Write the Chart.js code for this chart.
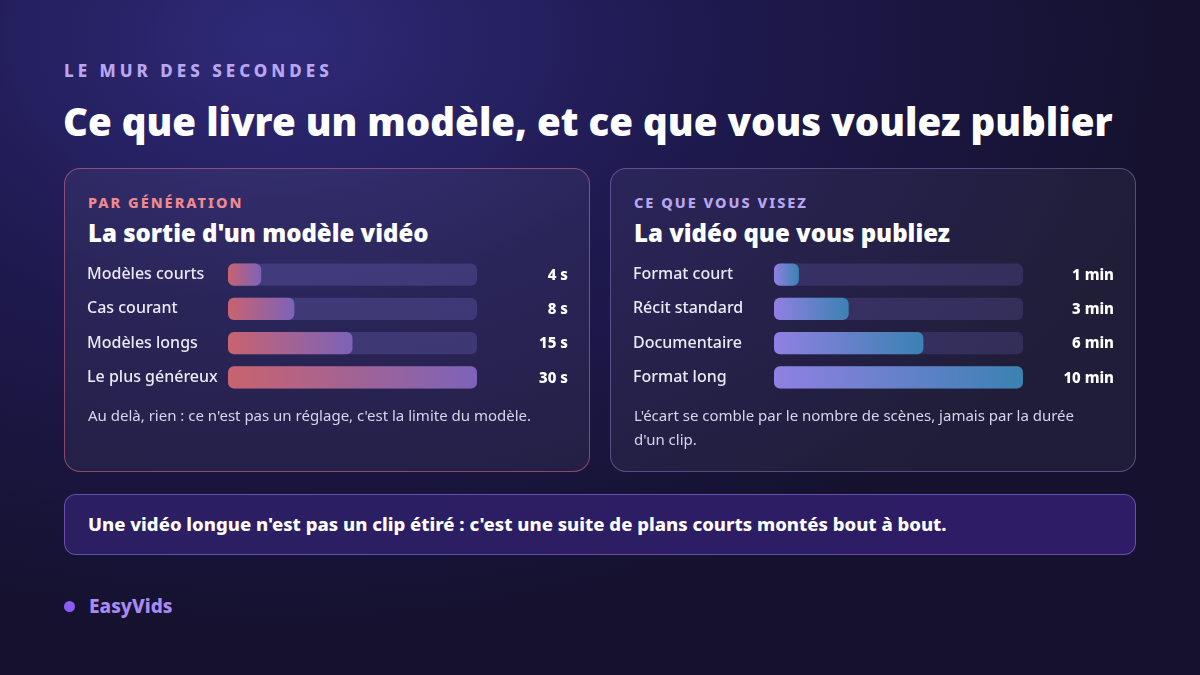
<!DOCTYPE html>
<html><head><meta charset="utf-8">
<script src="https://cdn.jsdelivr.net/npm/chart.js@4/dist/chart.umd.min.js"></script>
<style>
*{margin:0;padding:0;box-sizing:border-box}
body{width:1200px;height:675px;overflow:hidden;font-family:"Noto Sans",sans-serif;color:#fff;
background:radial-gradient(ellipse 900px 600px at 280px 40px,#2f2a78 0%,#1f1a50 45%,#15112e 100%);position:relative}
.kick{position:absolute;left:64px;top:59px;font-size:17px;font-weight:800;letter-spacing:4px;color:#b9a6f0}
h1{position:absolute;left:63px;top:95px;font-size:38.5px;font-weight:900;letter-spacing:0px;white-space:nowrap}
.card{position:absolute;top:168px;width:526px;height:304px;border-radius:16px;background:rgba(255,255,255,0.05)}
.c1{left:64px;border:1px solid rgba(220,110,140,0.55)}
.c2{left:610px;border:1px solid rgba(170,150,230,0.4)}
.card .k{position:absolute;left:23px;top:23px;font-size:14.5px;font-weight:800;letter-spacing:2px}
.card h2{position:absolute;left:23px;top:47px;font-size:24px;font-weight:900;white-space:nowrap}
.card .cv{position:absolute;left:22px;top:79px;width:482px;height:156px}
.card p{position:absolute;left:23px;top:234px;width:462px;font-size:15px;line-height:24px;color:#d8d4ec}
.banner{position:absolute;left:64px;top:494px;width:1072px;height:61px;border-radius:12px;border:1px solid rgba(150,120,230,0.55);
background:linear-gradient(90deg,#2b1f62,#2e1c66);font-size:18.5px;font-weight:800;padding:16px 23px;white-space:nowrap}
.brand{position:absolute;left:64px;top:593px;font-size:19px;font-weight:800;color:#a98af0}
.brand:before{content:"";display:inline-block;width:11px;height:11px;border-radius:50%;background:#8b5cf6;margin-right:14px;vertical-align:1px}
</style></head><body>
<div class="kick">LE MUR DES SECONDES</div>
<h1>Ce que livre un modèle, et ce que vous voulez publier</h1>
<div class="card c1"><div class="k" style="color:#f08a90">PAR GÉNÉRATION</div><h2>La sortie d'un modèle vidéo</h2>
<div class="cv"><canvas id="a"></canvas></div><p>Au delà, rien : ce n'est pas un réglage, c'est la limite du modèle.</p></div>
<div class="card c2"><div class="k" style="color:#b9a6f0">CE QUE VOUS VISEZ</div><h2>La vidéo que vous publiez</h2>
<div class="cv"><canvas id="b"></canvas></div><p>L'écart se comble par le nombre de scènes, jamais par la durée d'un clip.</p></div>
<div class="banner">Une vidéo longue n'est pas un clip étiré : c'est une suite de plans courts montés bout à bout.</div>
<div class="brand">EasyVids</div>
<script>
const genLabels=["Modèles courts","Cas courant","Modèles longs","Le plus généreux"];
const genValues=[4,8,15,30];
const genUnit="s";
const genMax=30;
const pubLabels=["Format court","Récit standard","Documentaire","Format long"];
const pubValues=[1,3,6,10];
const pubUnit="min";
const pubMax=10;

function make(id,labels,values,unit,max,c1,c2,track){
  const valPlugin={id:'vals',afterDatasetsDraw(ch){
    const c=ch.ctx,y=ch.scales.y;c.save();c.font='800 15px "Noto Sans"';c.fillStyle='#fff';c.textAlign='right';c.textBaseline='middle';
    values.forEach((v,i)=>c.fillText(v+' '+unit,ch.width-1,y.getPixelForValue(i)+1));c.restore();}};
  new Chart(document.getElementById(id),{type:'bar',
    data:{labels,datasets:[
      {data:values,order:0,grouped:false,borderRadius:6,borderSkipped:false,
       backgroundColor(ctx){const ch=ctx.chart,a=ch.chartArea;if(!a)return c1;const x=ch.scales.x;
         const g=ch.ctx.createLinearGradient(x.getPixelForValue(0),0,x.getPixelForValue(values[ctx.dataIndex]),0);
         g.addColorStop(0,c1);g.addColorStop(1,c2);return g;}},
      {data:labels.map(()=>max),order:1,grouped:false,borderRadius:6,borderSkipped:false,backgroundColor:track}]},
    options:{indexAxis:'y',responsive:true,maintainAspectRatio:false,animation:false,
      barPercentage:0.65,categoryPercentage:1,
      layout:{padding:{left:0,right:92,top:0,bottom:0}},
      plugins:{legend:{display:false},tooltip:{enabled:false}},
      scales:{x:{min:0,max,display:false},
        y:{grid:{display:false},border:{display:false},afterFit(s){s.width=141;},
          ticks:{color:'#ece9f7',font:{family:'Noto Sans',size:16,weight:'500'},crossAlign:'far',padding:0}}}},
    plugins:[valPlugin]});
}
make('a',genLabels,genValues,genUnit,genMax,'#c9636f','#7c63b9','rgba(120,110,200,0.28)');
make('b',pubLabels,pubValues,pubUnit,pubMax,'#9080e2','#3b82b2','rgba(120,110,200,0.22)');
</script></body></html>
